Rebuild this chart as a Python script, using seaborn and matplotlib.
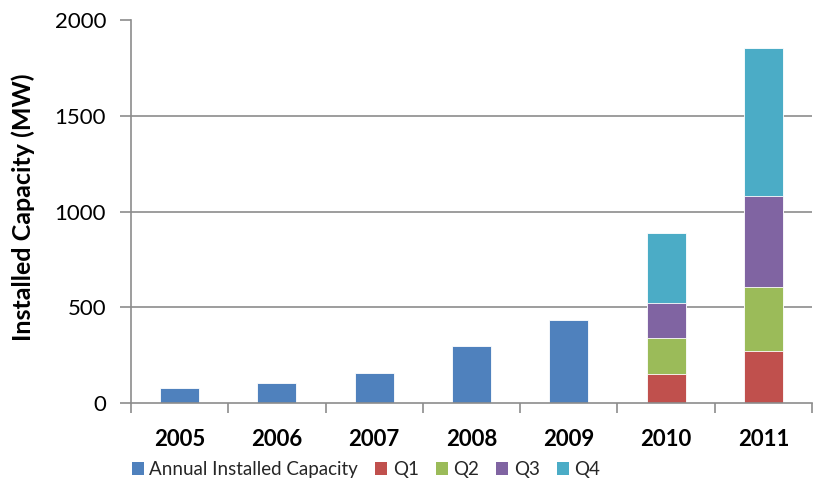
import matplotlib
matplotlib.use("Agg")
import matplotlib.pyplot as plt
from matplotlib.patches import Patch
import numpy as np
import pandas as pd
import seaborn as sns

years = ["2005", "2006", "2007", "2008", "2009", "2010", "2011"]
annual = [77, 103, 158, 296, 433, np.nan, np.nan]
q1 = [np.nan, np.nan, np.nan, np.nan, np.nan, 150, 273]
q2 = [np.nan, np.nan, np.nan, np.nan, np.nan, 188, 331]
q3 = [np.nan, np.nan, np.nan, np.nan, np.nan, 186, 477]
q4 = [np.nan, np.nan, np.nan, np.nan, np.nan, 362, 773]

series_names = ["Annual Installed Capacity", "Q1", "Q2", "Q3", "Q4"]
colors = {"Annual Installed Capacity": "#4F81BD", "Q1": "#C0504D",
          "Q2": "#9BBB59", "Q3": "#8064A2", "Q4": "#4BACC6"}

df = pd.DataFrame({"year": years, "annual": annual, "Q1": q1, "Q2": q2, "Q3": q3, "Q4": q4})
df["c1"] = df["Q1"]
df["c2"] = df["c1"] + df["Q2"]
df["c3"] = df["c2"] + df["Q3"]
df["c4"] = df["c3"] + df["Q4"]

sns.set_theme(style="white")
plt.rcParams["font.family"] = ["Lato", "DejaVu Sans"]

fig = plt.figure(figsize=(8.17, 4.83), dpi=100)
ax = fig.add_axes([131/817, 1 - 403/483, (812 - 131)/817, 383/483])

bar_kw = dict(order=years, width=0.4, errorbar=None, edgecolor="#ffffff", linewidth=0.6, ax=ax)
sns.barplot(data=df, x="year", y="annual", color=colors["Annual Installed Capacity"], saturation=1, **bar_kw)
for col, name in [("c4", "Q4"), ("c3", "Q3"), ("c2", "Q2"), ("c1", "Q1")]:
    sns.barplot(data=df, x="year", y=col, color=colors[name], saturation=1, **bar_kw)

ax.set_xlim(-0.5, 6.5)
ax.set_ylim(0, 2000)
ax.set_yticks([0, 500, 1000, 1500, 2000])
ax.set_yticklabels(["0", "500", "1000", "1500", "2000"])
ax.set_xticks(range(len(years)))
ax.set_xticklabels(years, fontweight="bold")
ax.set_xticks(np.arange(-0.5, 7.0, 1.0), minor=True)

grid_c = "#8c8c8c"
ax.yaxis.grid(True, color=grid_c, linewidth=1.2)
ax.set_axisbelow(True)
gl = ax.yaxis.get_gridlines()
gl[0].set_visible(False)
gl[-1].set_visible(False)

for s in ["top", "right"]:
    ax.spines[s].set_visible(False)
for s in ["left", "bottom"]:
    ax.spines[s].set_color(grid_c)
    ax.spines[s].set_linewidth(1.2)

ax.tick_params(axis="y", which="major", left=True, length=8, width=1.2, color=grid_c,
               labelsize=16, labelcolor="#000000", pad=10, direction="out")
ax.tick_params(axis="x", which="major", bottom=False, length=0, labelsize=16,
               labelcolor="#000000", pad=19)
ax.tick_params(axis="x", which="minor", bottom=True, length=7, width=1.2, color=grid_c, direction="out")

ax.set_xlabel("")
ax.set_ylabel("Installed Capacity (MW)", fontsize=18, fontweight="bold", color="#000000")
ax.yaxis.set_label_coords(-0.141, 0.51)

handles = [Patch(facecolor=colors[n], edgecolor="none") for n in series_names]
fig.legend(handles, series_names, loc="center", bbox_to_anchor=(0.448, 0.028), ncol=5,
           frameon=False, fontsize=13.5, handlelength=0.65, handleheight=0.65,
           handletextpad=0.3, columnspacing=0.9, borderpad=0)

fig.savefig("out.png", dpi=100)
